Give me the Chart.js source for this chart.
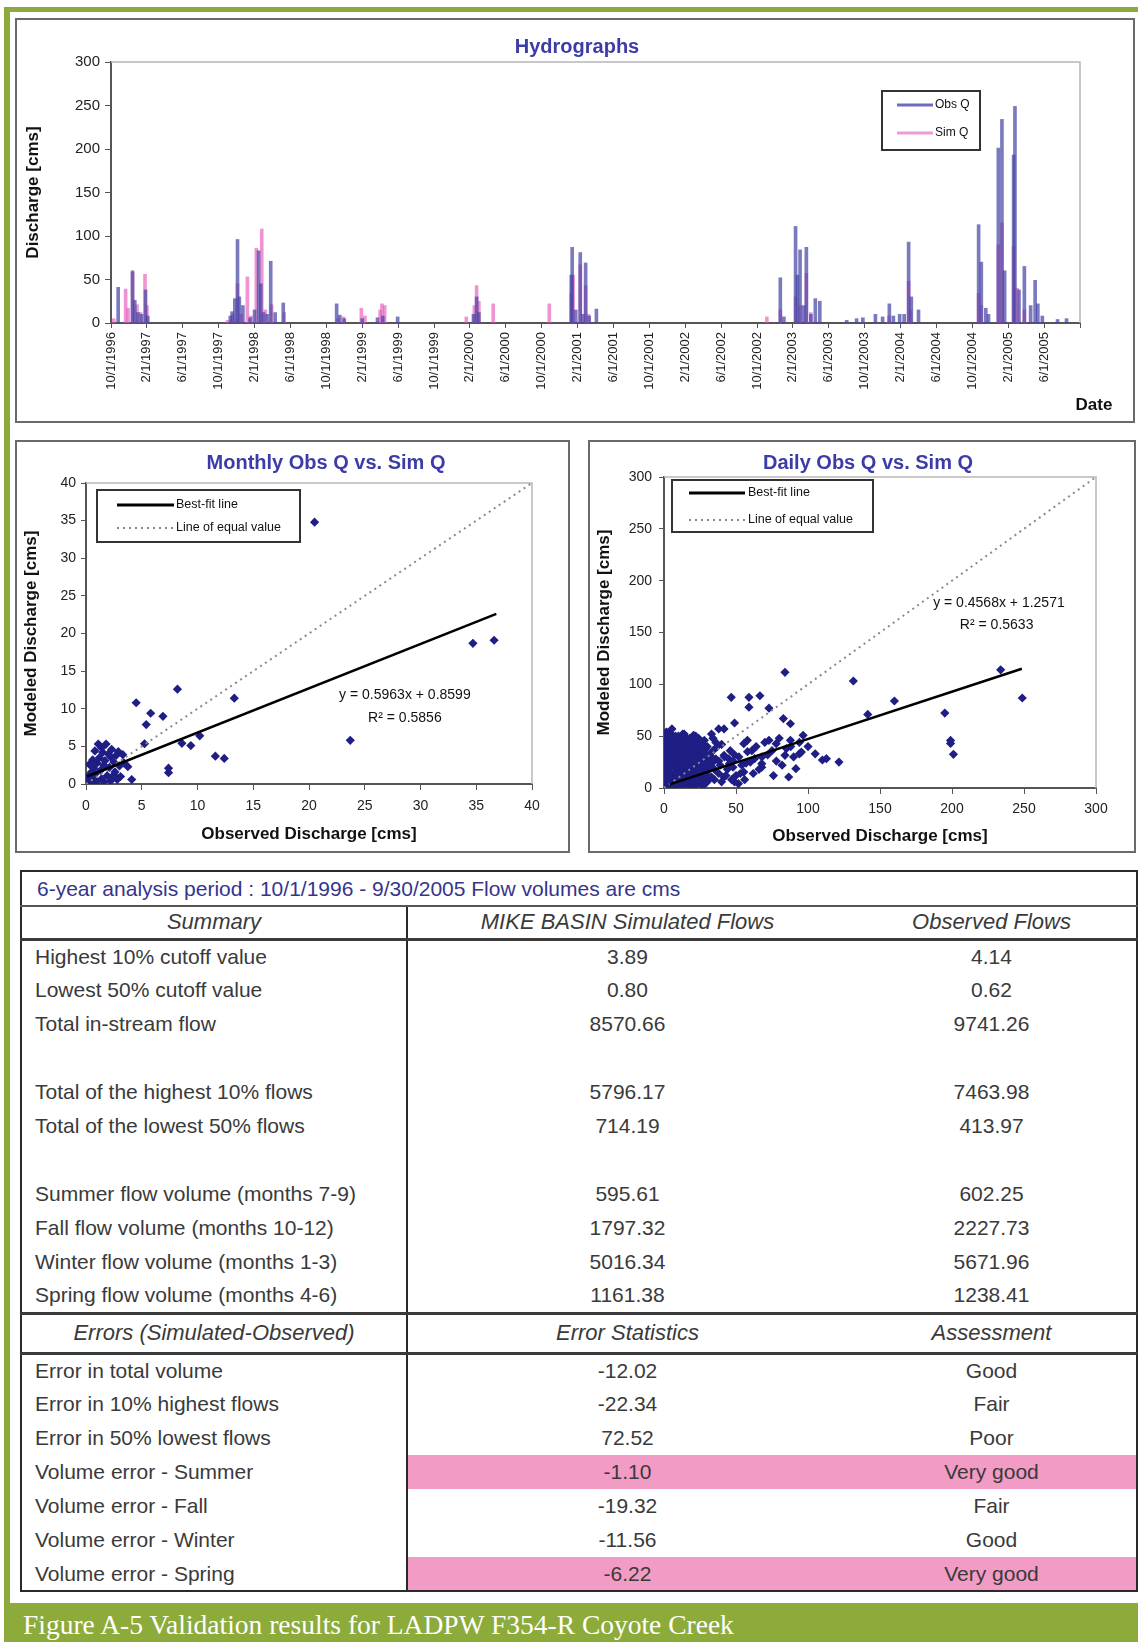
<!DOCTYPE html>
<html>
<head>
<meta charset="utf-8">
<script src="https://cdn.jsdelivr.net/npm/chart.js@4.4.1/dist/chart.umd.min.js"></script>
<style>
  body { margin: 0; width: 1138px; height: 1642px; position: relative; background: #fff; overflow: hidden;
         font-family: "Liberation Sans", Arial, sans-serif; }
  .green { position: absolute; background: #8dab3b; }
  .panel { position: absolute; box-sizing: border-box; border: 2px solid #6a6a6a; background: #fff; }
  .panel canvas { position: absolute; left: 0; top: 0; }
  #tbl { position: absolute; left: 20px; top: 870px; width: 1116px; border-collapse: collapse; table-layout: fixed;
         font-size: 21px; color: #3a3a3a; border: 2px solid #2a2a2a; }
  #tbl td, #tbl th { padding: 0; white-space: nowrap; overflow: hidden; height: 34px; box-sizing: border-box; }
  #tbl th { font-weight: normal; font-style: italic; font-size: 22px; }
  #tbl .title { text-align: left; padding-left: 15px; color: #35358c; height: 35px; border-bottom: 2px solid #555; }
  #tbl .head th { height: 33px; border-bottom: 3px solid #3a3a3a; }
  #tbl .head2 th { height: 40px; border-top: 3px solid #3a3a3a; border-bottom: 3px solid #3a3a3a; }
  #tbl .lab { text-align: left; padding-left: 13px; border-right: 2px solid #2a2a2a; }
  #tbl .num { text-align: center; }
  #tbl .pink { background: #f29bc4; }
  #caption { position: absolute; left: 4px; top: 1603px; width: 1134px; height: 39px; background: #8dab3b; color: #fff;
             font-family: "Liberation Serif", "Times New Roman", serif; font-size: 27.5px; line-height: 43px;
             padding-left: 19px; box-sizing: border-box; }
</style>
</head>
<body>
<div class="green" style="left:4px; top:7px; width:1134px; height:5px;"></div>
<div class="green" style="left:4px; top:7px; width:6px; height:1600px;"></div>

<div class="panel" style="left:15px; top:18px; width:1120px; height:405px;">
  <canvas id="hydro" width="1116" height="401"></canvas>
</div>
<div class="panel" style="left:15px; top:440px; width:555px; height:413px;">
  <canvas id="monthly" width="551" height="409"></canvas>
</div>
<div class="panel" style="left:588px; top:440px; width:548px; height:413px;">
  <canvas id="daily" width="544" height="409"></canvas>
</div>

<table id="tbl">
  <colgroup><col style="width:386px"><col style="width:440px"><col style="width:290px"></colgroup>
  <tbody id="tbody"></tbody>
</table>

<div id="caption">Figure A-5 Validation results for LADPW F354-R Coyote Creek</div>

<script>
// ---- hydrograph data: [months since 10/1/1996, discharge cms]
const dateLabels = ['10/1/1996', '2/1/1997', '6/1/1997', '10/1/1997', '2/1/1998', '6/1/1998', '10/1/1998',
  '2/1/1999', '6/1/1999', '10/1/1999', '2/1/2000', '6/1/2000', '10/1/2000', '2/1/2001', '6/1/2001', '10/1/2001',
  '2/1/2002', '6/1/2002', '10/1/2002', '2/1/2003', '6/1/2003', '10/1/2003', '2/1/2004', '6/1/2004', '10/1/2004',
  '2/1/2005', '6/1/2005'];

const obsQ = [
  [0.8, 41], [2.4, 60], [2.65, 26], [3.0, 12], [3.4, 10], [3.85, 38], [4.1, 8],
  [13.3, 8], [13.5, 13], [13.8, 28], [14.1, 96], [14.3, 30], [14.7, 20], [15.5, 6], [16.0, 15], [16.45, 83],
  [16.7, 45], [17.0, 12], [17.4, 10], [17.8, 71], [18.3, 12], [19.2, 23],
  [25.15, 22], [25.5, 9], [26.0, 5], [28.0, 5], [29.7, 6], [30.3, 8], [31.95, 7],
  [40.4, 10], [40.75, 30], [41.0, 12],
  [51.3, 55], [51.4, 87], [51.8, 15], [52.3, 81], [52.6, 10], [52.9, 69], [53.3, 8], [54.1, 16],
  [74.6, 52], [75.0, 7], [76.3, 111], [76.5, 55], [76.8, 84], [77.2, 20], [77.5, 87], [78.0, 10], [78.5, 28], [79.0, 25],
  [82.0, 3], [83.1, 5], [83.8, 6], [85.2, 10], [86.0, 7], [86.75, 22], [87.2, 8], [87.9, 10], [88.4, 10], [88.9, 93],
  [89.2, 30], [90.0, 15],
  [96.7, 113], [97.0, 70], [97.5, 17], [97.8, 10], [98.9, 201], [99.3, 234], [99.6, 60], [100.6, 193], [100.75, 249],
  [101.2, 38], [101.8, 65], [102.5, 20], [103.0, 49], [103.3, 22], [103.8, 8], [105.5, 4], [106.5, 5]
];

const simQ = [
  [0.3, 5], [1.63, 39], [1.9, 17], [2.4, 58], [2.9, 21], [3.3, 12], [3.79, 56], [4.0, 20],
  [13.0, 3], [13.6, 10], [14.1, 45], [14.5, 10], [15.2, 53], [15.6, 8], [16.2, 86], [16.8, 108], [17.2, 15],
  [17.9, 21], [19.3, 12],
  [25.3, 5], [25.9, 7], [27.9, 17], [28.3, 8], [30.0, 15], [30.2, 22], [30.5, 20],
  [39.6, 7], [40.5, 20], [40.75, 43], [41.0, 25], [42.6, 22],
  [48.85, 22], [51.3, 34], [51.5, 55], [52.3, 67], [52.9, 43], [53.2, 10],
  [73.1, 7], [74.6, 15], [76.3, 30], [76.8, 20], [77.5, 57], [78.0, 12],
  [86.7, 8], [88.9, 48], [89.1, 15],
  [96.7, 34], [97.0, 20], [98.9, 90], [99.3, 115], [100.6, 88], [101.0, 40], [101.8, 15]
];

// ---- monthly scatter: [observed, simulated]
const monthlyPts = [
  [20.5, 34.8], [34.7, 18.7], [36.6, 19.1], [23.7, 5.8], [8.2, 12.6], [13.3, 11.4], [4.5, 10.8], [5.8, 9.4],
  [6.9, 9.0], [5.4, 7.9], [5.25, 5.35], [8.6, 5.4], [9.4, 5.1], [10.2, 6.4], [7.4, 2.1], [7.4, 1.5],
  [11.6, 3.7], [12.4, 3.4], [4.1, 0.6],
  [0.1, 0.3], [0.2, 0.8], [0.3, 1.2], [0.4, 0.5], [0.5, 1.6], [0.6, 0.9], [0.7, 2.1], [0.8, 1.3], [0.9, 0.4],
  [1.0, 2.8], [1.1, 5.3], [1.2, 3.5], [1.3, 1.8], [1.4, 0.7], [1.5, 4.2], [1.6, 2.5], [1.7, 3.1], [1.8, 5.3],
  [1.9, 1.1], [2.0, 4.0], [2.1, 2.2], [2.2, 3.6], [2.3, 4.6], [2.4, 0.9], [2.5, 2.9], [2.6, 1.6], [2.7, 3.8],
  [2.8, 0.6], [2.9, 4.3], [3.0, 2.4], [3.1, 1.0], [3.3, 3.9], [3.4, 2.8], [3.75, 2.3], [0.2, 0.1], [0.5, 0.2],
  [0.9, 0.1], [1.6, 0.3], [2.2, 0.4], [0.3, 2.6], [0.6, 3.2], [0.8, 4.4], [1.4, 4.8], [2.5, 1.2]
];
const monthlyFit = [[0.1, 1.0], [36.8, 22.6]];
const monthlyEqual = [[0, 0], [40, 40]];

// ---- daily scatter: [observed, simulated]
const dailyPts = [
  [233.8, 114], [248.8, 86.8], [195, 72.3], [199, 45.9], [201, 32.5], [199, 43], [131.5, 103.2], [160, 83.9],
  [141.5, 71], [84, 111.6], [46.7, 87.5], [59, 87.5], [66.6, 89], [59, 78], [72.9, 77], [82.9, 67], [87.8, 62],
  [49, 62.7], [41.7, 57], [112.8, 28.3], [121.5, 25], [110, 27], [91.6, 18.6], [86.6, 10.6], [51.7, 4.2],
  [67.9, 20], [95.4, 34.7], [96.6, 50.8], [55.4, 42.8], [57.9, 46], [72.9, 46], [77.9, 42.8], [87.8, 46],
  [84, 31.5], [94, 33], [62.9, 28.3], [67.9, 23.5], [47.9, 20], [55.4, 15.4], [41.7, 31.5], [38, 57], [33, 52],
  [26.7, 42.8], [20.5, 50.8], [13, 52], [5.5, 57], [1.7, 54], [0.5, 31.5], [13, 40], [24.2, 33], [34, 25],
  [41.7, 10.6], [45.4, 23.5], [49, 5.8], [33, 10.6], [28, 4.2],
  [0.5, 0.5], [1, 2], [2, 5], [3, 1], [4, 8], [5, 3], [6, 12], [7, 6], [8, 2], [9, 15], [10, 9], [11, 4],
  [12, 18], [13, 11], [14, 7], [15, 22], [16, 14], [17, 3], [18, 26], [19, 17], [20, 9], [21, 30], [22, 20],
  [23, 12], [24, 5], [25, 35], [26, 24], [27, 15], [28, 8], [29, 38], [30, 28],
  [1, 10], [2, 18], [3, 25], [4, 32], [5, 40], [6, 46], [7, 22], [8, 30], [9, 38], [10, 44], [11, 26], [12, 34],
  [13, 2], [14, 41], [15, 6], [16, 30], [17, 37], [18, 12], [19, 44], [20, 27], [21, 5], [22, 38], [23, 31],
  [24, 18], [26, 42], [27, 2], [28, 33], [30, 16], [32, 22], [34, 36], [35, 8], [36, 28], [38, 14], [40, 42],
  [42, 30], [44, 18], [46, 36], [48, 26], [50, 12], [52, 30], [54, 22], [56, 8], [58, 35], [60, 25], [62, 14],
  [64, 40], [68, 30], [70, 44], [75, 36], [78, 26], [80, 48], [85, 38], [90, 30], [94, 44], [100, 40], [105, 33],
  [0.5, 15], [0.5, 28], [0.5, 40], [1, 48], [2, 35], [3, 44], [4, 20], [5, 28], [6, 36], [7, 44], [8, 50],
  [9, 24], [10, 32], [11, 40], [12, 48], [13, 28], [14, 20], [15, 45], [16, 48], [17, 24], [18, 40], [19, 32],
  [20, 46], [21, 18], [22, 44], [23, 26], [24, 48], [25, 12], [26, 34], [28, 46], [30, 40], [32, 10], [34, 48],
  [36, 44], [38, 26], [40, 6],
  [1, 6], [2, 12], [3, 20], [4, 26], [5, 14], [6, 4], [7, 30], [8, 38], [9, 8], [10, 20], [11, 14], [12, 6],
  [13, 36], [14, 28], [15, 14], [16, 22], [17, 44], [18, 34], [19, 6], [20, 36], [21, 24], [22, 12], [23, 42],
  [24, 30], [25, 20], [26, 8], [27, 28], [28, 18], [29, 24], [30, 6], [31, 32], [2, 28], [3, 38], [4, 46],
  [5, 52], [6, 24], [7, 14], [8, 20], [9, 30], [10, 2], [11, 34], [12, 26], [13, 20], [14, 12], [15, 32],
  [16, 40], [17, 16], [18, 20], [19, 26], [20, 16], [21, 40], [22, 30], [23, 4], [24, 38], [25, 28], [26, 16],
  [27, 36], [28, 24], [29, 12], [31, 20], [33, 30], [35, 18], [37, 40], [39, 22], [43, 12], [45, 28], [47, 8],
  [49, 32], [53, 14], [57, 24], [61, 36], [66, 18], [72, 32], [76, 12], [82, 22], [88, 40], [1, 24], [1, 36],
  [2, 44], [3, 52], [4, 14], [6, 30], [8, 44], [10, 50], [12, 40], [14, 52], [16, 8], [18, 48], [20, 2],
  [22, 50], [3, 9], [5, 20], [7, 36], [9, 46], [11, 8], [13, 45], [15, 38], [17, 30], [19, 12], [21, 12],
  [23, 18], [25, 42], [27, 22], [29, 30]
];
const dailyFit = [[4, 3.5], [248.5, 115]];
const dailyEqual = [[0, 0], [300, 300]];

// ---- table
const summaryHeads = ['Summary', 'MIKE BASIN Simulated Flows', 'Observed Flows'];
const summaryLabels = ['Highest 10% cutoff value', 'Lowest 50% cutoff value', 'Total in-stream flow', '',
  'Total of the highest 10% flows', 'Total of the lowest 50% flows', '', 'Summer flow volume (months 7-9)',
  'Fall flow volume (months 10-12)', 'Winter flow volume (months 1-3)', 'Spring flow volume (months 4-6)'];
const simFlows = ['3.89', '0.80', '8570.66', '', '5796.17', '714.19', '', '595.61', '1797.32', '5016.34', '1161.38'];
const obsFlows = ['4.14', '0.62', '9741.26', '', '7463.98', '413.97', '', '602.25', '2227.73', '5671.96', '1238.41'];
const errorHeads = ['Errors (Simulated-Observed)', 'Error Statistics', 'Assessment'];
const errorLabels = ['Error in total volume', 'Error in 10% highest flows', 'Error in 50% lowest flows',
  'Volume error - Summer', 'Volume error - Fall', 'Volume error - Winter', 'Volume error - Spring'];
const errorStats = ['-12.02', '-22.34', '72.52', '-1.10', '-19.32', '-11.56', '-6.22'];
const assessments = ['Good', 'Fair', 'Poor', 'Very good', 'Fair', 'Good', 'Very good'];

Chart.defaults.font.family = '"Liberation Sans", Arial, sans-serif';
Chart.defaults.color = '#222';

const toXY = arr => arr.map(([x, y]) => ({ x, y }));
const titleFont = 'bold 20px "Liberation Sans"';
const titleColor = '#3c3ca8';

// light frame on top / right of the plot area
const frame = {
  id: 'frame',
  beforeDatasetsDraw(chart, args, opts) {
    const { ctx, chartArea: a } = chart;
    ctx.save();
    ctx.strokeStyle = opts.color || '#bbb';
    ctx.lineWidth = 1.5;
    ctx.beginPath();
    ctx.moveTo(a.left, a.top);
    ctx.lineTo(a.right, a.top);
    ctx.lineTo(a.right, a.bottom);
    ctx.stroke();
    ctx.restore();
  }
};

// boxed legend inside the plot, like the Excel one
const boxLegend = {
  id: 'boxLegend',
  afterDraw(chart, args, o) {
    if (!o.items) return;
    const ctx = chart.ctx;
    ctx.save();
    ctx.fillStyle = '#fff';
    ctx.fillRect(o.x, o.y, o.w, o.h);
    ctx.strokeStyle = '#333';
    ctx.lineWidth = 2;
    ctx.strokeRect(o.x, o.y, o.w, o.h);
    ctx.font = o.font;
    ctx.textBaseline = 'middle';
    ctx.textAlign = 'left';
    o.items.forEach((idx, i) => {
      const ds = chart.data.datasets[idx];
      const y = o.y + o.rows[i];
      ctx.strokeStyle = ds.legendColor || ds.borderColor;
      ctx.lineWidth = ds.legendWidth || 2;
      ctx.setLineDash(ds.borderDash || []);
      ctx.beginPath();
      ctx.moveTo(o.x + o.lineX[0], y);
      ctx.lineTo(o.x + o.lineX[1], y);
      ctx.stroke();
      ctx.setLineDash([]);
      ctx.fillStyle = '#111';
      ctx.fillText(ds.label, o.x + o.textX, y);
    });
    ctx.restore();
  }
};

// free text: titles, equations, axis note
const notes = {
  id: 'notes',
  afterDraw(chart, args, o) {
    if (!o.items) return;
    const { ctx, scales } = chart;
    ctx.save();
    o.items.forEach(t => {
      const px = t.xv !== undefined ? scales.x.getPixelForValue(t.xv) : t.x;
      const py = t.yv !== undefined ? scales.y.getPixelForValue(t.yv) : t.y;
      ctx.font = t.font;
      ctx.fillStyle = t.color || '#111';
      ctx.textAlign = 'center';
      ctx.textBaseline = 'middle';
      ctx.fillText(t.text, px, py);
    });
    ctx.restore();
  }
};

const axisStyle = (tickLen, color) => ({
  grid: { display: true, drawOnChartArea: false, tickLength: tickLen, color: color, tickColor: color, offset: false },
  border: { display: true, color: color, width: 2 }
});

// ---- hydrographs
new Chart(document.getElementById('hydro'), {
  type: 'bar',
  data: {
    datasets: [
      { label: 'Obs Q', data: toXY(obsQ), backgroundColor: 'rgba(70,70,165,0.72)', legendColor: '#6d6dbf', legendWidth: 3 },
      { label: 'Sim Q', data: toXY(simQ), backgroundColor: 'rgba(232,96,190,0.68)', legendColor: '#ef9bd8', legendWidth: 3 }
    ]
  },
  options: {
    responsive: false,
    animation: false,
    datasets: { bar: { barThickness: 3, grouped: false } },
    layout: { padding: { left: 0, top: 42, right: 53, bottom: 0 } },
    plugins: {
      legend: { display: false },
      tooltip: { enabled: false },
      title: { display: false },
      frame: { color: '#b5b5b5' },
      boxLegend: { x: 865, y: 71, w: 98, h: 59, rows: [14, 42], lineX: [15, 51], textX: 53, font: '12px "Liberation Sans"', items: [0, 1] },
      notes: { items: [
        { text: 'Hydrographs', x: 560, y: 27, font: titleFont, color: titleColor },
        { text: 'Date', x: 1077, y: 385, font: 'bold 17px "Liberation Sans"' }
      ] }
    },
    scales: {
      x: {
        type: 'linear', min: 0, max: 108, offset: false,
        afterFit: s => { s.height = 98; },
        ...axisStyle(5, '#555'),
        ticks: { stepSize: 4, autoSkip: false, minRotation: 90, maxRotation: 90, padding: 4, color: '#222',
                 font: { size: 13 }, callback: v => dateLabels[v / 4] ?? '' }
      },
      y: {
        min: 0, max: 300,
        afterFit: s => { s.width = 94; },
        ...axisStyle(6, '#555'),
        ticks: { stepSize: 50, padding: 5, color: '#222', font: { size: 15 } },
        title: { display: true, text: 'Discharge [cms]', color: '#111', font: { size: 17, weight: 'bold' }, padding: { top: 6, bottom: 0 } }
      }
    }
  },
  plugins: [frame, boxLegend, notes]
});

// ---- scatter builder
function scatterChart(id, cfg) {
  return new Chart(document.getElementById(id), {
    type: 'scatter',
    data: {
      datasets: [
        { label: 'points', data: toXY(cfg.pts), pointStyle: 'rectRot', pointRadius: 4.6, backgroundColor: '#1e1e84',
          borderColor: '#1e1e84', borderWidth: 0, order: 3 },
        { label: 'Best-fit line', data: toXY(cfg.fit), showLine: true, pointRadius: 0, borderColor: '#000', borderWidth: 2.5,
          legendWidth: 3, order: 1 },
        { label: 'Line of equal value', data: toXY(cfg.equal), showLine: true, pointRadius: 0, borderColor: '#8a8a8a',
          borderWidth: 2, borderDash: [2, 4], order: 2 }
      ]
    },
    options: {
      responsive: false,
      animation: false,
      layout: { padding: { left: 0, top: cfg.padTop, right: cfg.padRight, bottom: 0 } },
      plugins: {
        legend: { display: false },
        tooltip: { enabled: false },
        title: { display: false },
        frame: { color: '#b8b8b8' },
        boxLegend: { ...cfg.legend, font: '12.5px "Liberation Sans"', items: [1, 2] },
        notes: { items: [{ text: cfg.title, x: cfg.titleX, y: 21, font: titleFont, color: titleColor }, ...cfg.notes] }
      },
      scales: {
        x: {
          type: 'linear', min: 0, max: cfg.max,
          afterFit: s => { s.height = cfg.xHeight; },
          ...axisStyle(6, '#555'),
          ticks: { stepSize: cfg.step, padding: cfg.xTickPad, color: '#222', font: { size: 14 } },
          title: { display: true, text: 'Observed Discharge [cms]', color: '#111', font: { size: 17, weight: 'bold' },
                   padding: { top: 0, bottom: cfg.xTitlePad } }
        },
        y: {
          min: 0, max: cfg.max,
          afterFit: s => { s.width = cfg.yWidth; },
          ...axisStyle(5, '#555'),
          ticks: { stepSize: cfg.step, padding: cfg.yTickPad, color: '#222', font: { size: 14 } },
          title: { display: true, text: 'Modeled Discharge [cms]', color: '#111', font: { size: 17, weight: 'bold' },
                   padding: { top: 4, bottom: 0 } }
        }
      }
    },
    plugins: [frame, boxLegend, notes]
  });
}

scatterChart('monthly', {
  title: 'Monthly Obs Q vs. Sim Q', titleX: 309, pts: monthlyPts, fit: monthlyFit, equal: monthlyEqual,
  max: 40, step: 5, padTop: 41, padRight: 36, xHeight: 67, yWidth: 69, xTickPad: 8, yTickPad: 5, xTitlePad: 6,
  legend: { x: 80, y: 48, w: 203, h: 52, rows: [15, 38], lineX: [20, 77], textX: 79 },
  notes: [
    { text: 'y = 0.5963x + 0.8599', xv: 28.6, yv: 11.8, font: '14px "Liberation Sans"' },
    { text: 'R² = 0.5856', xv: 28.6, yv: 8.8, font: '14px "Liberation Sans"' }
  ]
});

scatterChart('daily', {
  title: 'Daily Obs Q vs. Sim Q', titleX: 278, pts: dailyPts, fit: dailyFit, equal: dailyEqual,
  max: 300, step: 50, padTop: 35, padRight: 38, xHeight: 63, yWidth: 74, xTickPad: 7, yTickPad: 7, xTitlePad: 4,
  legend: { x: 82, y: 38, w: 201, h: 52, rows: [13, 40], lineX: [17, 73], textX: 76 },
  notes: [
    { text: 'y = 0.4568x + 1.2571', xv: 232.6, yv: 178.5, font: '14px "Liberation Sans"' },
    { text: 'R² = 0.5633', xv: 231, yv: 157.2, font: '14px "Liberation Sans"' }
  ]
});

// ---- table body
const tbody = document.getElementById('tbody');
function addRow(html, cls) {
  const tr = document.createElement('tr');
  if (cls) tr.className = cls;
  tr.innerHTML = html;
  tbody.appendChild(tr);
}
addRow('<td class="title" colspan="3">6-year analysis period : 10/1/1996 - 9/30/2005 Flow volumes are cms</td>');
addRow(`<th style="border-right:2px solid #2a2a2a">${summaryHeads[0]}</th><th>${summaryHeads[1]}</th><th>${summaryHeads[2]}</th>`, 'head');
summaryLabels.forEach((lab, i) => {
  addRow(`<td class="lab">${lab}</td><td class="num">${simFlows[i]}</td><td class="num">${obsFlows[i]}</td>`);
});
addRow(`<th style="border-right:2px solid #2a2a2a">${errorHeads[0]}</th><th>${errorHeads[1]}</th><th>${errorHeads[2]}</th>`, 'head2');
errorLabels.forEach((lab, i) => {
  const pk = assessments[i] === 'Very good' ? ' pink' : '';
  addRow(`<td class="lab">${lab}</td><td class="num${pk}">${errorStats[i]}</td><td class="num${pk}">${assessments[i]}</td>`);
});
</script>
</body>
</html>
